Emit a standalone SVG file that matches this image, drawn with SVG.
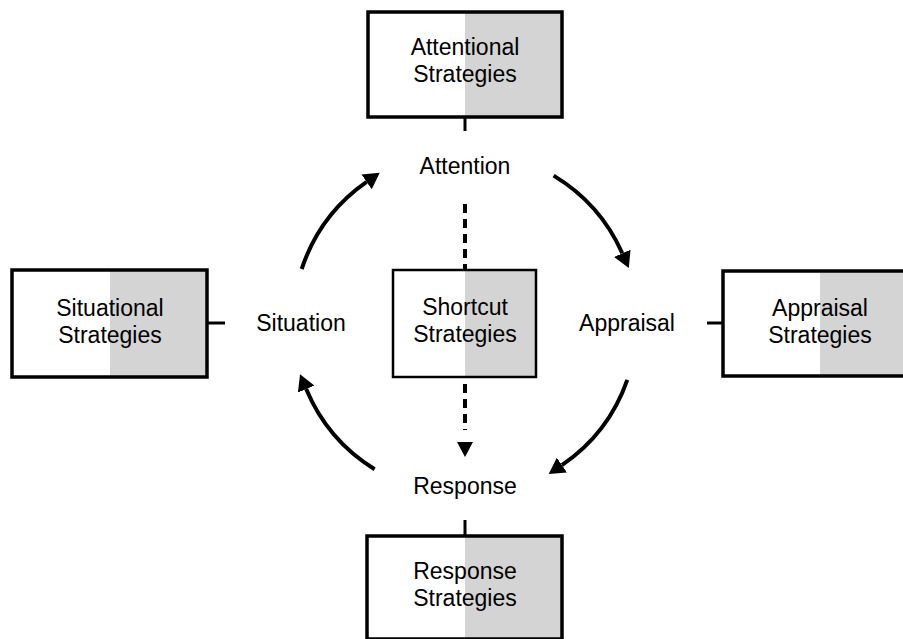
<svg xmlns="http://www.w3.org/2000/svg" width="903" height="639" viewBox="0 0 903 639">
  <style>
    .box { fill: none; stroke: #000; stroke-width: 3.5; }
    .box-thin { fill: none; stroke: #000; stroke-width: 2.5; }
    .left { fill: #fff; }
    .right { fill: #d4d4d4; }
    .tick { stroke: #000; stroke-width: 3; fill: none; }
    .arc { stroke: #000; stroke-width: 4; fill: none; marker-end: url(#head); }
    .dash { stroke: #000; stroke-width: 4; fill: none; stroke-dasharray: 9 6; }
    text { font-family: "Liberation Sans", Arial, sans-serif; font-size: 23px; fill: #000; text-anchor: middle; }
  </style>
  <defs>
    <marker id="head" markerUnits="userSpaceOnUse" markerWidth="16" markerHeight="18" viewBox="0 0 16 18" refX="0" refY="9" orient="auto">
      <path d="M0,0 L16,9 L0,18 z" fill="#000"/>
    </marker>
  </defs>
  <rect x="0" y="0" width="903" height="639" fill="#fff"/>

  <!-- connectors -->
  <g id="connectors">
    <!-- cycle arcs around centre (465,323), r=172 -->
    <path class="arc" d="M301.7,269 A172,172 0 0 1 366.6,181.9"/>
    <path class="arc" d="M553.6,175.6 A172,172 0 0 1 622.3,253.3"/>
    <path class="arc" d="M627.3,379.8 A172,172 0 0 1 561.9,465.1"/>
    <path class="arc" d="M374.6,469.3 A172,172 0 0 1 306.2,389.1"/>
    <!-- shortcut path from attention to response -->
    <line class="dash" x1="465" y1="204" x2="465" y2="430"/>
    <path d="M457,442 L473,442 L465,457 z" fill="#000"/>
    <!-- strategy ticks -->
    <line class="tick" x1="465" y1="117" x2="465" y2="131"/>
    <line class="tick" x1="208" y1="323" x2="225" y2="323"/>
    <line class="tick" x1="707" y1="323" x2="723" y2="323"/>
    <line class="tick" x1="465" y1="520" x2="465" y2="536"/>
  </g>

  <!-- process stage labels -->
  <g id="attention"><text x="465" y="174">Attention</text></g>
  <g id="appraisal"><text x="627" y="331">Appraisal</text></g>
  <g id="response"><text x="465" y="494">Response</text></g>
  <g id="situation"><text x="301" y="331">Situation</text></g>

  <!-- strategy boxes -->
  <g id="attentional-strategies">
    <rect class="left" x="368" y="12" width="97" height="105"/>
    <rect class="right" x="465" y="12" width="97" height="105"/>
    <rect class="box" x="368" y="12" width="194" height="105"/>
    <text x="465" y="55">Attentional</text>
    <text x="465" y="82">Strategies</text>
  </g>

  <g id="situational-strategies">
    <rect class="left" x="12" y="270" width="98" height="107"/>
    <rect class="right" x="110" y="270" width="97" height="107"/>
    <rect class="box" x="12" y="270" width="195" height="107"/>
    <text x="110" y="316">Situational</text>
    <text x="110" y="343">Strategies</text>
  </g>

  <g id="appraisal-strategies">
    <rect class="left" x="723" y="271" width="97" height="105"/>
    <rect class="right" x="820" y="271" width="100" height="105"/>
    <rect class="box" x="723" y="271" width="200" height="105"/>
    <text x="820" y="316">Appraisal</text>
    <text x="820" y="343">Strategies</text>
  </g>

  <g id="shortcut-strategies">
    <rect class="left" x="393" y="270" width="72" height="107"/>
    <rect class="right" x="465" y="270" width="71" height="107"/>
    <rect class="box-thin" x="393" y="270" width="143" height="107"/>
    <text x="465" y="315">Shortcut</text>
    <text x="465" y="342">Strategies</text>
  </g>

  <g id="response-strategies">
    <rect class="left" x="367" y="536" width="98" height="103"/>
    <rect class="right" x="465" y="536" width="97" height="103"/>
    <rect class="box" x="367" y="536" width="195" height="103"/>
    <text x="465" y="579">Response</text>
    <text x="465" y="606">Strategies</text>
  </g>
</svg>
